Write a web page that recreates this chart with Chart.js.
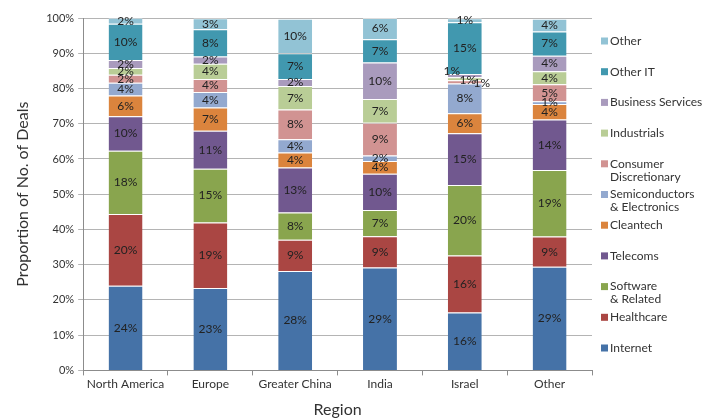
<!DOCTYPE html>
<html>
<head>
<meta charset="utf-8">
<script src="https://cdn.jsdelivr.net/npm/chart.js@4"></script>
<style>
  html, body { margin: 0; padding: 0; background: #fff; }
  #wrap { width: 715px; height: 419px; position: relative; }
</style>
</head>
<body>
<div id="wrap"><canvas id="dealsChart"></canvas></div>
<script>
// regions along the x axis
var regions = ['North America', 'Europe', 'Greater China', 'India', 'Israel', 'Other'];

// share of deals per sector, %
var internet    = [24.0, 23.4, 28.2, 29.2, 16.4, 29.4];
var healthcare  = [20.4, 18.6,  8.9,  8.9, 16.2,  8.6];
var software    = [17.9, 15.2,  7.7,  7.4, 20.0, 18.9];
var telecoms    = [ 9.8, 10.8, 12.8, 10.3, 14.7, 14.3];
var cleantech   = [ 5.9,  6.6,  4.2,  3.6,  5.7,  4.4];
var semis       = [ 3.6,  4.4,  3.8,  1.6,  8.4,  0.8];
var consumer    = [ 2.3,  3.7,  8.4,  9.3,  0.9,  4.8];
var industrials = [ 1.9,  4.3,  6.7,  6.7,  0.9,  3.7];
var business    = [ 2.3,  2.1,  2.0, 10.4,  0.9,  4.4];
var otherIT     = [10.3,  7.7,  7.3,  6.6, 14.7,  6.9];
var other       = [ 1.7,  3.1,  9.8,  6.0,  1.1,  3.6];

var yTicks = [0, 10, 20, 30, 40, 50, 60, 70, 80, 90, 100];

var FONT = 'Lato, "Open Sans", sans-serif';

function series(label, lines, data, color) {
    return {
        label: label,
        legendLines: lines,
        data: data,
        backgroundColor: color,
        borderColor: 'rgba(255,255,255,0.55)',
        borderWidth: { top: 1 },
        borderSkipped: false,
        barPercentage: 0.8,
        categoryPercentage: 0.5
    };
}

var datasets = [
    series('Internet', ['Internet'], internet, '#4572A7'),
    series('Healthcare', ['Healthcare'], healthcare, '#AA4643'),
    series('Software & Related', ['Software', '& Related'], software, '#89A54E'),
    series('Telecoms', ['Telecoms'], telecoms, '#71588F'),
    series('Cleantech', ['Cleantech'], cleantech, '#DB843D'),
    series('Semiconductors & Electronics', ['Semiconductors', '& Electronics'], semis, '#93A9CF'),
    series('Consumer Discretionary', ['Consumer', 'Discretionary'], consumer, '#D19392'),
    series('Industrials', ['Industrials'], industrials, '#B9CD96'),
    series('Business Services', ['Business Services'], business, '#A99BBD'),
    series('Other IT', ['Other IT'], otherIT, '#4198AF'),
    series('Other', ['Other'], other, '#92C3D5')
];

// Israel's three 1% labels are pushed aside so they do not sit on top of each other
var labelNudge = { '6:4': [17, 1], '7:4': [3, 1], '8:4': [-13, -4] };

var segmentLabels = {
    id: 'segmentLabels',
    afterDatasetsDraw: function (chart) {
        var ctx = chart.ctx;
        ctx.save();
        ctx.font = '12px ' + FONT;
        ctx.fillStyle = '#222';
        ctx.textAlign = 'center';
        ctx.textBaseline = 'middle';
        chart.data.datasets.forEach(function (ds, di) {
            chart.getDatasetMeta(di).data.forEach(function (bar, i) {
                var p = bar.getProps(['x', 'y', 'base'], true);
                var n = labelNudge[di + ':' + i] || [0, 0];
                ctx.fillText(Math.round(ds.data[i]) + '%', p.x + n[0], (p.y + p.base) / 2 + n[1]);
            });
        });
        ctx.restore();
    }
};

// legend drawn like the original: evenly spaced slots, top item = last series
var sideLegend = {
    id: 'sideLegend',
    afterDraw: function (chart) {
        var ctx = chart.ctx;
        var area = chart.chartArea;
        var x = area.right + 9;
        var pitch = 30.7;
        ctx.save();
        ctx.font = '12px ' + FONT;
        ctx.textAlign = 'left';
        ctx.textBaseline = 'middle';
        var list = chart.data.datasets.slice().reverse();
        list.forEach(function (ds, k) {
            var y = area.top + 23 + k * pitch;
            ctx.fillStyle = ds.backgroundColor;
            ctx.fillRect(x, y - 3.5, 7, 7);
            ctx.fillStyle = '#333';
            ds.legendLines.forEach(function (line, j) {
                ctx.fillText(line, x + 9, y + j * 13);
            });
        });
        ctx.restore();
    }
};

new Chart(document.getElementById('dealsChart').getContext('2d'), {
    type: 'bar',
    data: { labels: regions, datasets: datasets },
    plugins: [segmentLabels, sideLegend],
    options: {
        responsive: true,
        maintainAspectRatio: false,
        animation: false,
        layout: { padding: { top: 18, right: 123, left: 9, bottom: -4 } },
        scales: {
            x: {
                stacked: true,
                grid: { offset: true, drawOnChartArea: false, color: '#8c8c8c', tickLength: 5 },
                border: { color: '#8c8c8c' },
                ticks: { color: '#333', font: { family: FONT, size: 12 }, padding: 2 },
                title: { display: true, text: 'Region', color: '#333', font: { family: FONT, size: 16 }, padding: { top: 6 } }
            },
            y: {
                stacked: true,
                min: 0,
                max: 100,
                afterBuildTicks: function (axis) {
                    axis.ticks = yTicks.map(function (v) { return { value: v }; });
                },
                grid: { color: '#b4b4b4', tickLength: 5 },
                border: { color: '#8c8c8c' },
                ticks: {
                    color: '#333',
                    font: { family: FONT, size: 11 },
                    padding: 4,
                    callback: function (v) { return v + '%'; }
                },
                title: { display: true, text: 'Proportion of No. of Deals', color: '#333', font: { family: FONT, size: 16 }, padding: { bottom: 10 } }
            }
        },
        plugins: {
            legend: { display: false },
            tooltip: { enabled: false }
        }
    }
});
</script>
</body>
</html>
